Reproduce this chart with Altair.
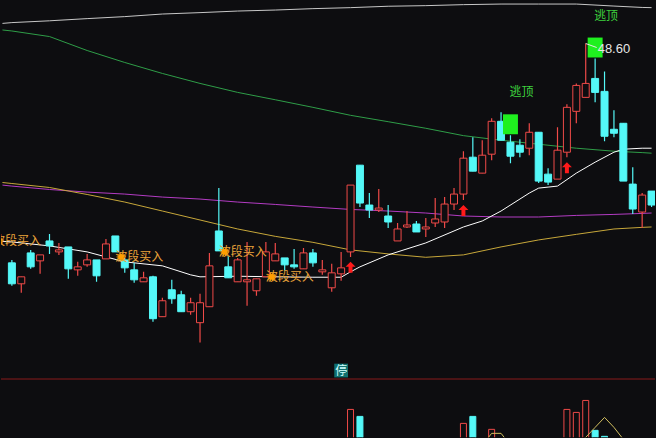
import math
import altair as alt
import pandas as pd

# ---------------- daily bars ----------------
opens = [
    37.60, 36.55, 38.10, 37.70, 38.70, 38.15, 38.40, 37.25, 37.50, 37.75,
    37.80, 38.95, 37.75, 37.25, 36.65, 36.90, 34.90, 36.25, 36.00, 35.15,
    34.60, 35.40, 39.20, 37.40, 36.65, 36.65, 36.20, 36.90, 37.70, 37.85,
    37.50, 37.30, 38.10, 37.15, 36.35, 37.05, 38.15, 42.50, 40.50, 40.25,
    39.95, 38.70, 39.40, 39.55, 39.30, 39.60, 39.65, 40.55, 41.05, 42.90,
    42.10, 43.05, 44.70, 43.65, 43.50, 43.35, 44.15, 42.05, 41.80, 43.15,
    45.20, 45.90, 46.85, 46.20, 44.30, 44.60, 41.55, 40.15, 41.20,
]
highs = [
    37.75, 36.90, 38.25, 38.00, 39.05, 38.60, 38.40, 37.65, 38.05, 37.75,
    38.80, 38.95, 37.85, 37.60, 37.15, 36.95, 35.85, 36.75, 36.20, 35.85,
    36.05, 38.10, 41.35, 37.95, 37.85, 38.65, 36.80, 38.65, 38.60, 37.85,
    38.30, 38.35, 38.30, 37.75, 37.55, 38.15, 41.50, 42.50, 41.10, 41.30,
    40.50, 39.60, 40.20, 39.70, 39.85, 40.85, 40.90, 41.35, 43.20, 43.90,
    43.75, 44.85, 45.15, 44.00, 43.80, 44.60, 44.15, 42.35, 44.40, 45.55,
    46.60, 48.60, 47.85, 47.20, 45.25, 44.60, 42.40, 41.10, 41.20,
]
lows = [
    36.45, 36.10, 37.30, 37.05, 38.05, 38.00, 36.80, 36.95, 37.40, 36.65,
    37.80, 38.15, 37.10, 36.60, 36.65, 34.65, 34.90, 35.55, 35.15, 35.00,
    33.60, 35.40, 38.20, 36.85, 36.65, 35.45, 35.95, 36.90, 37.70, 37.20,
    37.30, 37.30, 37.40, 37.00, 36.15, 36.70, 37.90, 40.40, 39.85, 40.15,
    39.35, 38.70, 39.35, 39.15, 38.90, 39.40, 39.35, 40.25, 40.75, 42.20,
    42.10, 42.75, 43.75, 42.60, 42.90, 43.00, 41.60, 41.50, 41.80, 42.90,
    44.60, 45.90, 45.65, 43.70, 43.90, 41.70, 40.05, 39.35, 40.40,
]
closes = [
    36.55, 36.90, 37.40, 38.00, 38.45, 38.25, 37.30, 37.40, 37.75, 36.95,
    38.55, 38.15, 37.35, 36.75, 36.85, 34.80, 35.70, 35.80, 35.15, 35.60,
    35.60, 37.45, 38.20, 36.85, 37.75, 36.75, 36.80, 38.15, 38.05, 37.50,
    37.40, 38.10, 37.60, 37.25, 37.10, 37.35, 41.50, 40.60, 40.25, 40.35,
    39.65, 39.30, 39.50, 39.15, 39.40, 39.80, 40.55, 41.05, 42.85, 42.20,
    43.00, 44.70, 43.75, 42.95, 43.15, 44.15, 41.70, 41.65, 43.25, 45.40,
    46.50, 46.60, 46.15, 43.95, 44.10, 41.70, 40.30, 41.00, 40.50,
]
# volume, 10k lots
volumes = [
    22, 18, 20, 15, 17, 14, 24, 12, 13, 21,
    19, 23, 16, 18, 11, 33, 25, 17, 22, 15,
    28, 36, 38, 19, 20, 27, 14, 26, 18, 12,
    16, 17, 13, 10, 18, 14, 55, 51.5, 24, 22,
    17, 15, 13, 12, 14, 16, 25, 23, 48, 51.5,
    34, 45, 38, 36, 22, 30, 39, 21, 35, 55,
    53.5, 59.5, 44.5, 41.5, 33, 40, 37, 26, 30,
]

# ---------------- moving averages (sampled by bar index) ----------------
ma_long_idx = [-1, 0, 4, 8, 12, 16, 20, 24, 28, 32, 36, 40, 44, 48, 52, 56, 60, 64, 67, 68]
ma250 = [49.61, 49.65, 49.74, 49.85, 49.95, 50.08, 50.15, 50.23, 50.28, 50.35,
         50.40, 50.47, 50.50, 50.55, 50.58, 50.58, 50.58, 50.48, 50.41, 50.40]
ma120 = [49.28, 49.23, 48.95, 48.25, 47.65, 47.10, 46.60, 46.15, 45.78, 45.40,
         45.00, 44.68, 44.35, 43.98, 43.75, 43.55, 43.35, 43.20, 43.13, 43.10]
ma60 = [41.50, 41.45, 41.28, 41.15, 41.05, 40.90, 40.80, 40.65, 40.53, 40.40,
        40.28, 40.20, 40.10, 39.95, 39.90, 39.90, 39.98, 40.03, 40.08, 40.10]
ma30 = [41.63, 41.58, 41.38, 41.03, 40.65, 40.20, 39.75, 39.30, 38.93, 38.63,
        38.25, 38.05, 37.88, 38.00, 38.40, 38.75, 39.03, 39.30, 39.38, 39.40]
ma10_idx = [-1, 0, 4, 8, 10, 12, 16, 19, 20, 24, 28, 32, 35, 36, 37, 40, 44, 48, 50,
            52, 55, 56, 57, 58, 60, 62, 64, 65, 67, 68]
ma10 = [38.68, 38.65, 38.45, 38.15, 37.90, 37.65, 37.45, 37.00, 36.90, 36.93,
        36.90, 36.88, 36.88, 37.15, 37.40, 38.00, 38.60, 39.40, 39.70, 40.20,
        41.10, 41.35, 41.40, 41.45, 42.10, 42.65, 43.15, 43.30, 43.35, 43.35]

vol_ma_idx = [0, 10, 20, 30, 36, 40, 46, 50, 51, 52, 53, 56, 60, 61, 62, 63, 64, 65, 67, 68]
vol_ma = [24, 21, 26, 20, 30, 34, 28, 37, 43, 43, 37, 35, 38, 41, 46, 51, 46, 40, 36, 34]

# ---------------- signals ----------------
buy_idx = [-2, 11, 22, 27]
buy_price = [38.70, 37.90, 38.15, 36.90]
buy_text = "波段买入"
up_arrow_idx = [36, 48, 59]
top_idx = [53, 62]
top_text = "逃顶"
peak_idx = 61
limit_idx = 35
limit_text = "停"

# ---------------- styling ----------------
BG = "#0d0d10"
RED = "#f04a48"
CYAN = "#54f8f8"
W, H_PRICE, H_VOL = 656, 379, 59
X_STEP = (648 - 6) / 67

bars = pd.DataFrame({"i": list(range(len(opens))), "open": opens, "high": highs,
                     "low": lows, "close": closes, "vol": volumes})
bars["dir"] = ["up" if c >= o else "down" for o, c in zip(opens, closes)]
bars["base"] = 0.0

x_scale = alt.Scale(domain=[-6 / X_STEP, 67 + 8 / X_STEP], nice=False, zero=False)
X = alt.X("i:Q", scale=x_scale, axis=None)
p_scale = alt.Scale(domain=[50.75 - H_PRICE / 20, 50.75], nice=False, zero=False)
dir_stroke = alt.Scale(domain=["up", "down"], range=[RED, CYAN])
dir_fill = alt.Scale(domain=["up", "down"], range=[BG, CYAN])

# moving averages
ma_rows = []
for name, idxs, vals in [("MA250", ma_long_idx, ma250), ("MA120", ma_long_idx, ma120),
                         ("MA60", ma_long_idx, ma60), ("MA30", ma_long_idx, ma30),
                         ("MA10", ma10_idx, ma10)]:
    ma_rows += [{"ma": name, "i": i, "v": v} for i, v in zip(idxs, vals)]
ma_df = pd.DataFrame(ma_rows)
ma_lines = alt.Chart(ma_df).mark_line(strokeWidth=1, clip=True).encode(
    x=X,
    y=alt.Y("v:Q", scale=p_scale, axis=None),
    color=alt.Color("ma:N", legend=None, scale=alt.Scale(
        domain=["MA250", "MA120", "MA60", "MA30", "MA10"],
        range=["#c8c8c8", "#2f9e48", "#b43cc4", "#c8a83a", "#ffffff"])),
    detail="ma:N",
)

# high-low wicks, drawn under the bodies
wicks = alt.Chart(bars).mark_rule(strokeWidth=1.2, strokeOpacity=1, clip=True).encode(
    x=X,
    y=alt.Y("low:Q", scale=p_scale, axis=None),
    y2="high:Q",
    stroke=alt.Stroke("dir:N", scale=dir_stroke, legend=None),
)
bodies = alt.Chart(bars).mark_bar(width=7, strokeWidth=1, clip=True).encode(
    x=X,
    y=alt.Y("open:Q", scale=p_scale, axis=None),
    y2="close:Q",
    fill=alt.Fill("dir:N", scale=dir_fill, legend=None),
    stroke=alt.Stroke("dir:N", scale=dir_stroke, legend=None),
)


def star_path(cx, points=10, r_in=0.5):
    pts = []
    for k in range(points * 2):
        r = 1.0 if k % 2 == 0 else r_in
        a = math.pi * k / points
        pts.append(f"{cx + r * math.cos(a):.3f},{r * math.sin(a):.3f}")
    return "M" + "L".join(pts) + "Z"


buy_df = pd.DataFrame({"i": buy_idx, "p": buy_price, "t": [buy_text] * len(buy_idx)})
buy_labels = alt.Chart(buy_df).mark_text(
    align="left", baseline="middle", fontSize=12, font="Noto Sans CJK SC",
    color="#eba43a", clip=True,
).encode(x=X, y=alt.Y("p:Q", scale=p_scale, axis=None), text="t:N")
buy_stars = alt.Chart(buy_df).mark_point(
    shape=star_path(1.1), size=110, filled=True, fill="#ff9e00", strokeWidth=0,
    opacity=1, clip=True,
).encode(x=X, y=alt.Y("p:Q", scale=p_scale, axis=None))

arrow_df = pd.DataFrame({"i": up_arrow_idx, "p": [lows[i] for i in up_arrow_idx]})
arrows = alt.Chart(arrow_df).mark_point(
    shape="M0,0.833L0.833,1.667L0.333,1.667L0.333,2.667L-0.333,2.667L-0.333,1.667L-0.833,1.667Z",
    size=144, filled=True, fill="#ff1a1a", strokeWidth=0, opacity=1,
).encode(x=X, y=alt.Y("p:Q", scale=p_scale, axis=None))

top_df = pd.DataFrame({"i": top_idx, "p": [highs[i] for i in top_idx],
                       "t": [top_text] * len(top_idx)})
top_boxes = alt.Chart(top_df).mark_point(
    shape="M-0.75,-2.1L0.75,-2.1L0.75,-0.1L-0.75,-0.1Z", size=400, filled=True,
    fill="#1ff01f", strokeWidth=0, opacity=1,
).encode(x=X, y=alt.Y("p:Q", scale=p_scale, axis=None))
top_labels = alt.Chart(top_df).mark_text(
    align="left", baseline="middle", dx=-1, dy=-43, fontSize=12,
    font="Noto Sans CJK SC", color="#3ed23e",
).encode(x=X, y=alt.Y("p:Q", scale=p_scale, axis=None), text="t:N")

peak_df = pd.DataFrame({"i": [peak_idx], "p": [highs[peak_idx]],
                        "t": [f"{highs[peak_idx]:.2f}"]})
peak_pointer = alt.Chart(peak_df).mark_point(
    shape="M0,0L1.1,0.4", size=400, filled=False, stroke="#e6e6e6", strokeWidth=1,
    opacity=1,
).encode(x=X, y=alt.Y("p:Q", scale=p_scale, axis=None))
peak_label = alt.Chart(peak_df).mark_text(
    align="left", baseline="middle", dx=12, dy=5, fontSize=13,
    font="Liberation Sans", color="#e6e6e6",
).encode(x=X, y=alt.Y("p:Q", scale=p_scale, axis=None), text="t:N")

limit_df = pd.DataFrame({"i": [limit_idx], "t": [limit_text]})
limit_box = alt.Chart(limit_df).mark_point(
    shape="square", size=190, filled=True, fill="#107070", strokeWidth=0, opacity=1,
).encode(x=X, y=alt.value(371))
limit_label = alt.Chart(limit_df).mark_text(
    align="center", baseline="middle", fontSize=12, font="Noto Sans CJK SC",
    color="#d0ffff",
).encode(x=X, y=alt.value(371.5), text="t:N")

price = alt.layer(
    ma_lines, wicks, bodies, buy_labels, buy_stars, arrows, top_boxes, top_labels,
    peak_pointer, peak_label, limit_box, limit_label,
).properties(width=W, height=H_PRICE)

# ---------------- volume panel ----------------
v_scale = alt.Scale(domain=[41, 41 + H_VOL * 0.5], nice=False, zero=False)
vol_bars = alt.Chart(bars).mark_bar(width=6, strokeWidth=1, clip=True).encode(
    x=X,
    y=alt.Y("vol:Q", scale=v_scale, axis=None),
    y2="base:Q",
    fill=alt.Fill("dir:N", scale=dir_fill, legend=None),
    stroke=alt.Stroke("dir:N", scale=dir_stroke, legend=None),
)
vol_ma_df = pd.DataFrame({"i": vol_ma_idx, "v": vol_ma})
vol_ma_line = alt.Chart(vol_ma_df).mark_line(strokeWidth=1, color="#d2c060", clip=True).encode(
    x=X, y=alt.Y("v:Q", scale=v_scale, axis=None),
)
divider = alt.Chart(pd.DataFrame({"k": [0]})).mark_rule(color="#8a1a1a", strokeWidth=1).encode(
    x=alt.value(0), x2=alt.value(W), y=alt.value(0.5),
)
volume = alt.layer(vol_bars, vol_ma_line, divider).properties(width=W, height=H_VOL)

chart = alt.vconcat(price, volume, spacing=0).properties(
    background=BG, padding=0,
).configure_view(strokeWidth=0)

chart.save("out.html", embed_options={"renderer": "svg", "actions": False})
